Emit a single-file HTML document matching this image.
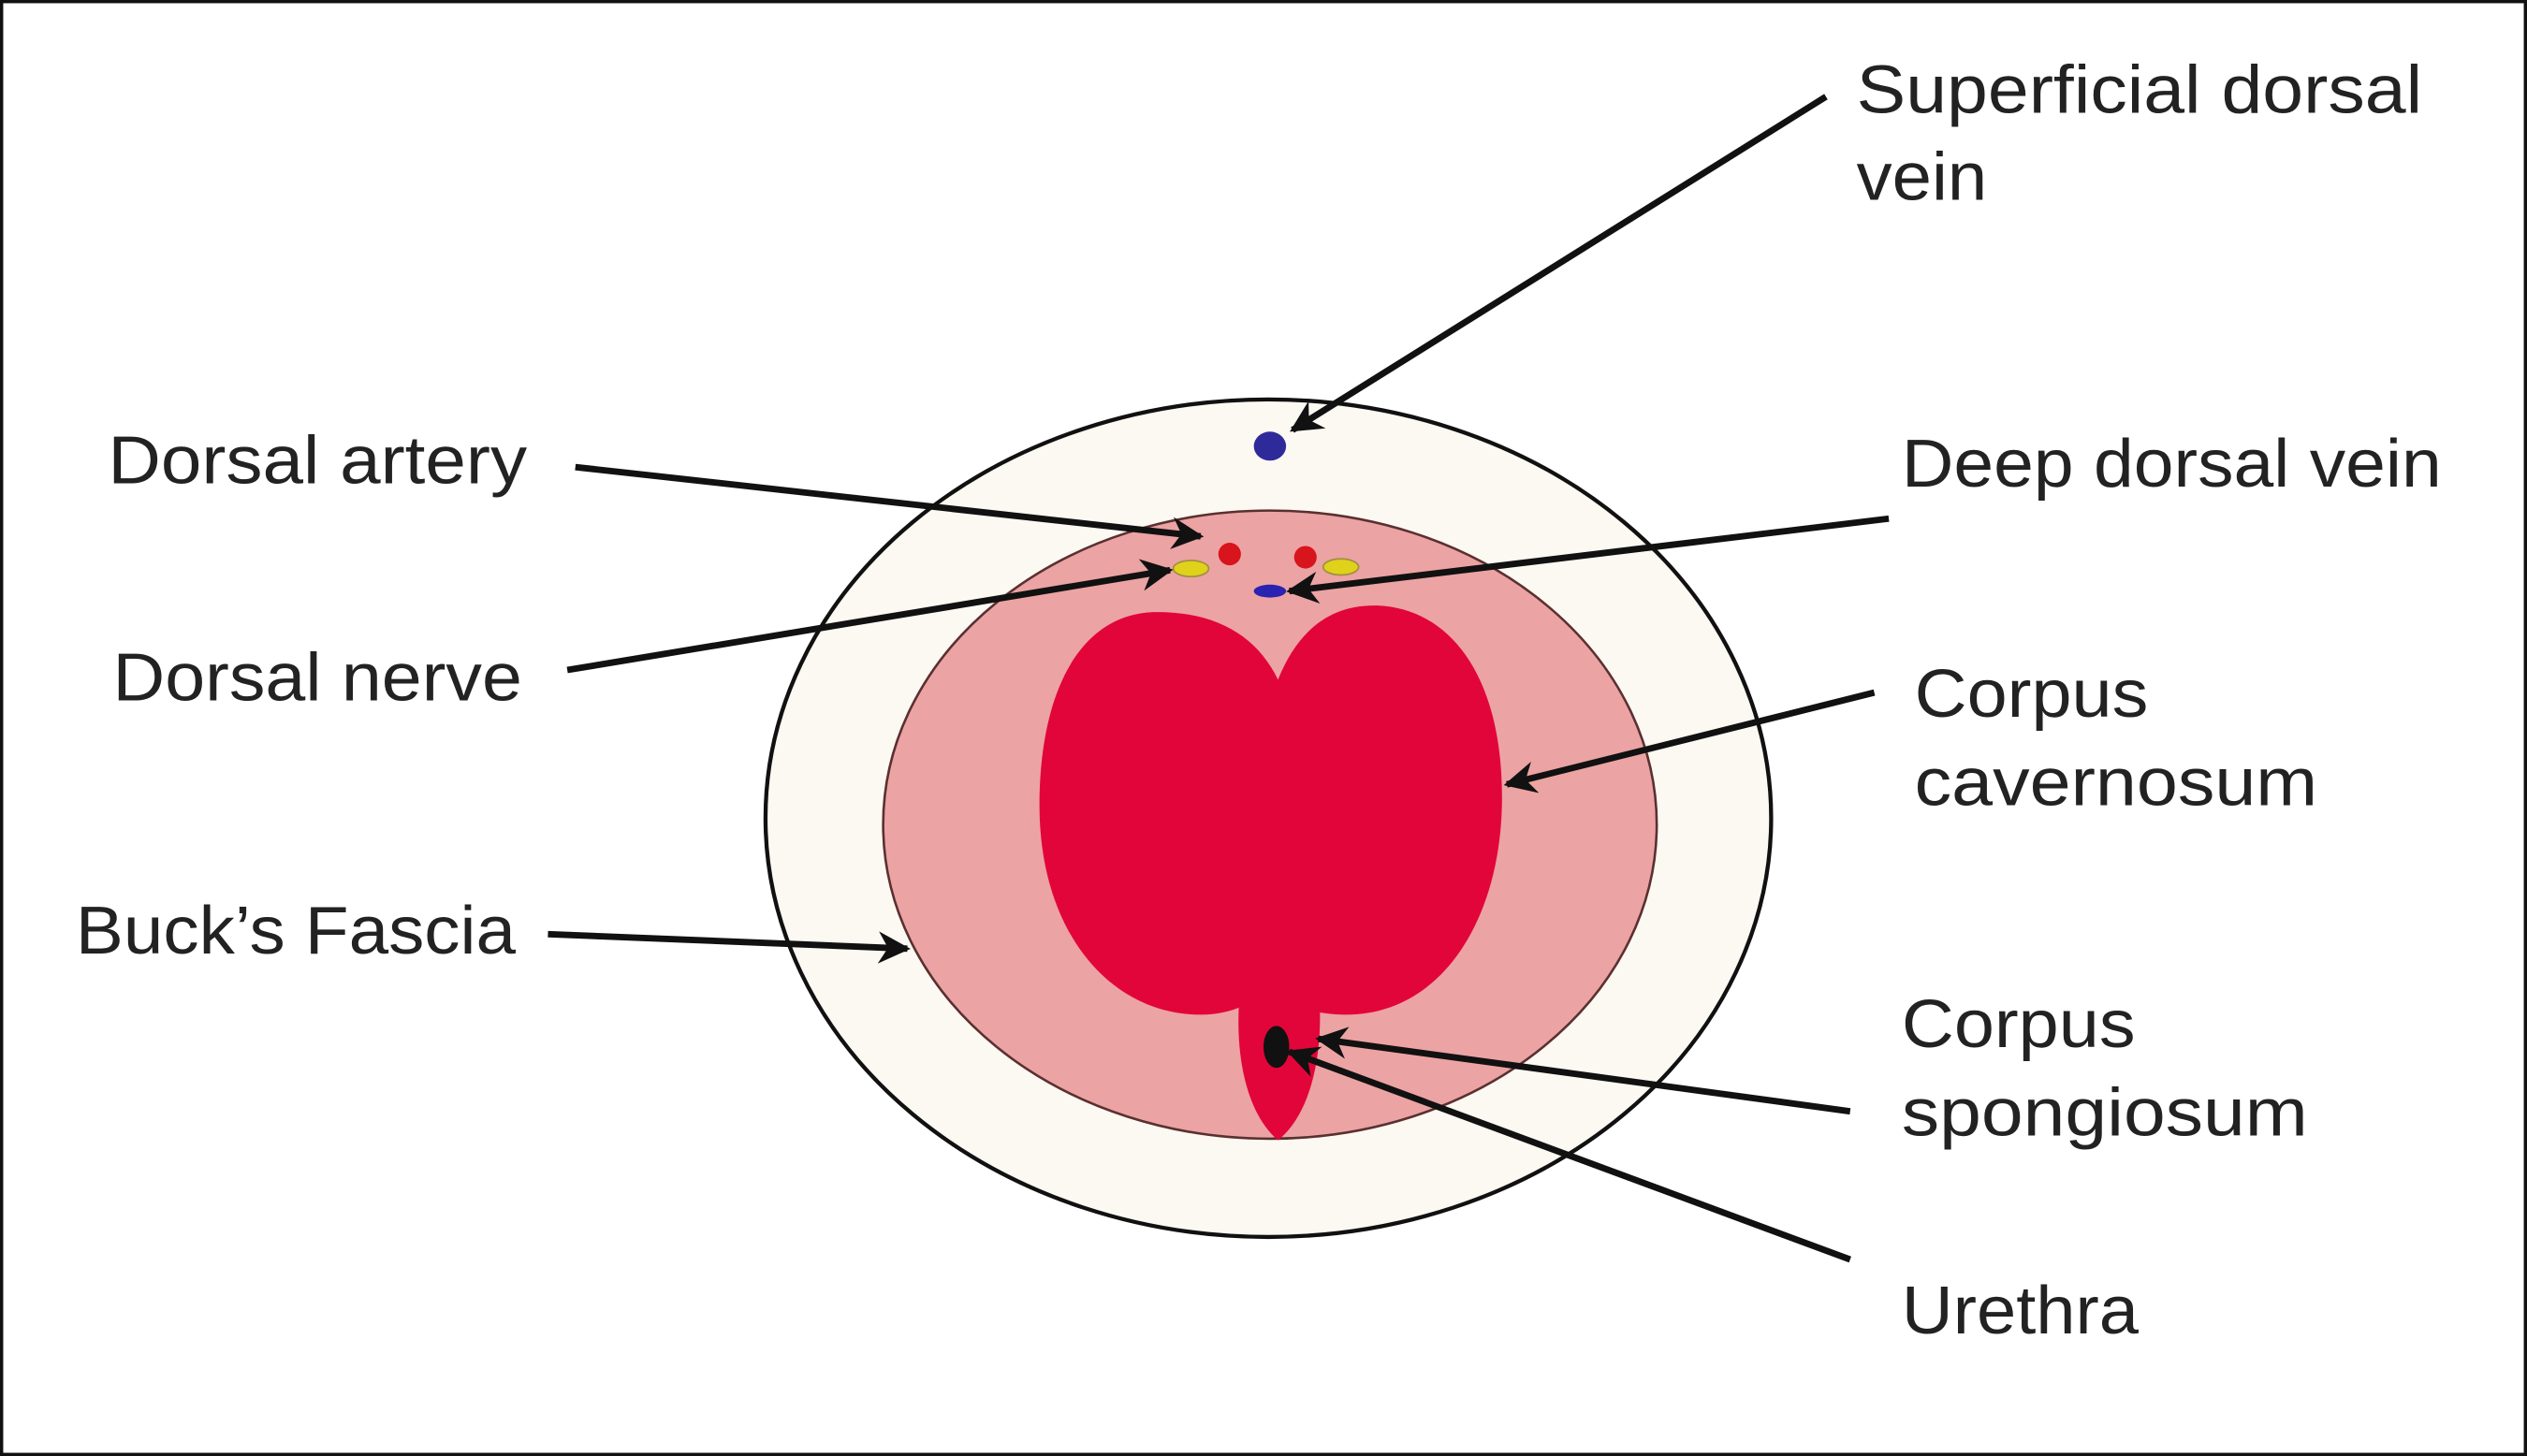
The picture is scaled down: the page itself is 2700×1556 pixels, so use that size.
<!DOCTYPE html>
<html><head><style>
html,body{margin:0;padding:0;background:#fff}
svg{display:block}
text{font-family:"Liberation Sans",sans-serif;font-size:42px;fill:#222}
</style></head><body>
<svg width="2700" height="1556" viewBox="0 0 1568 904" preserveAspectRatio="none" xmlns="http://www.w3.org/2000/svg">
<defs>
<marker id="a" viewBox="0 0 10 10" refX="9" refY="5" markerWidth="5" markerHeight="5" orient="auto" markerUnits="strokeWidth">
<path d="M0,0 L10,5 L0,10 L3,5 z" fill="#111"/></marker>
</defs>
<rect x="1" y="1" width="1566" height="902" fill="#fff" stroke="#111" stroke-width="2"/>
<ellipse cx="787" cy="508" rx="312" ry="260" fill="#fcf8f2" stroke="#111" stroke-width="2.5"/>
<ellipse cx="788" cy="512" rx="240" ry="195" fill="#eca3a3" stroke="#5a3030" stroke-width="1.5"/>
<path d="M793,422 C780,395 755,380 718,380 C670,380 645,430 645,500 C645,580 690,630 745,630 C765,630 780,622 785,612 C795,622 812,630 835,630 C895,630 932,570 932,495 C932,420 900,378 855,376 C825,375 805,392 793,422 Z" fill="#e20539"/>
<path d="M770,610 L818,610 C822,650 815,690 793,708 C772,690 765,650 770,610 Z" fill="#e20539"/>
<ellipse cx="792" cy="650" rx="8" ry="13" fill="#111"/>
<ellipse cx="788" cy="277" rx="10" ry="9" fill="#2f2a9a"/>
<circle cx="763" cy="344" r="7" fill="#d8141c"/>
<circle cx="810" cy="346" r="7" fill="#d8141c"/>
<ellipse cx="739" cy="353" rx="11" ry="5" fill="#e0d21a" stroke="#a09040" stroke-width="1"/>
<ellipse cx="832" cy="352" rx="11" ry="5" fill="#e0d21a" stroke="#a09040" stroke-width="1"/>
<ellipse cx="788" cy="367" rx="10" ry="4" fill="#2a22b0"/>
<g stroke="#111" stroke-width="4" fill="none" marker-end="url(#a)">
<line x1="1133" y1="60" x2="802" y2="267"/>
<line x1="357" y1="290" x2="745" y2="333"/>
<line x1="352" y1="416" x2="726" y2="354"/>
<line x1="1172" y1="322" x2="800" y2="367"/>
<line x1="1163" y1="430" x2="935" y2="487"/>
<line x1="340" y1="580" x2="563" y2="589"/>
<line x1="1148" y1="690" x2="818" y2="645"/>
<line x1="1148" y1="782" x2="800" y2="653"/>
</g>
<text x="1152" y="70" textLength="351" lengthAdjust="spacingAndGlyphs">Superficial dorsal</text>
<text x="1152" y="124" textLength="81" lengthAdjust="spacingAndGlyphs">vein</text>
<text x="67" y="300" textLength="260" lengthAdjust="spacingAndGlyphs">Dorsal artery</text>
<text x="1180" y="302" textLength="335" lengthAdjust="spacingAndGlyphs">Deep dorsal vein</text>
<text x="70" y="435" textLength="254" lengthAdjust="spacingAndGlyphs">Dorsal nerve</text>
<text x="1188" y="445" textLength="145" lengthAdjust="spacingAndGlyphs">Corpus</text>
<text x="1188" y="500" textLength="250" lengthAdjust="spacingAndGlyphs">cavernosum</text>
<text x="47" y="592" textLength="273" lengthAdjust="spacingAndGlyphs">Buck’s Fascia</text>
<text x="1180" y="650" textLength="145" lengthAdjust="spacingAndGlyphs">Corpus</text>
<text x="1180" y="705" textLength="252" lengthAdjust="spacingAndGlyphs">spongiosum</text>
<text x="1180" y="828" textLength="147" lengthAdjust="spacingAndGlyphs">Urethra</text>
</svg>
</body></html>
